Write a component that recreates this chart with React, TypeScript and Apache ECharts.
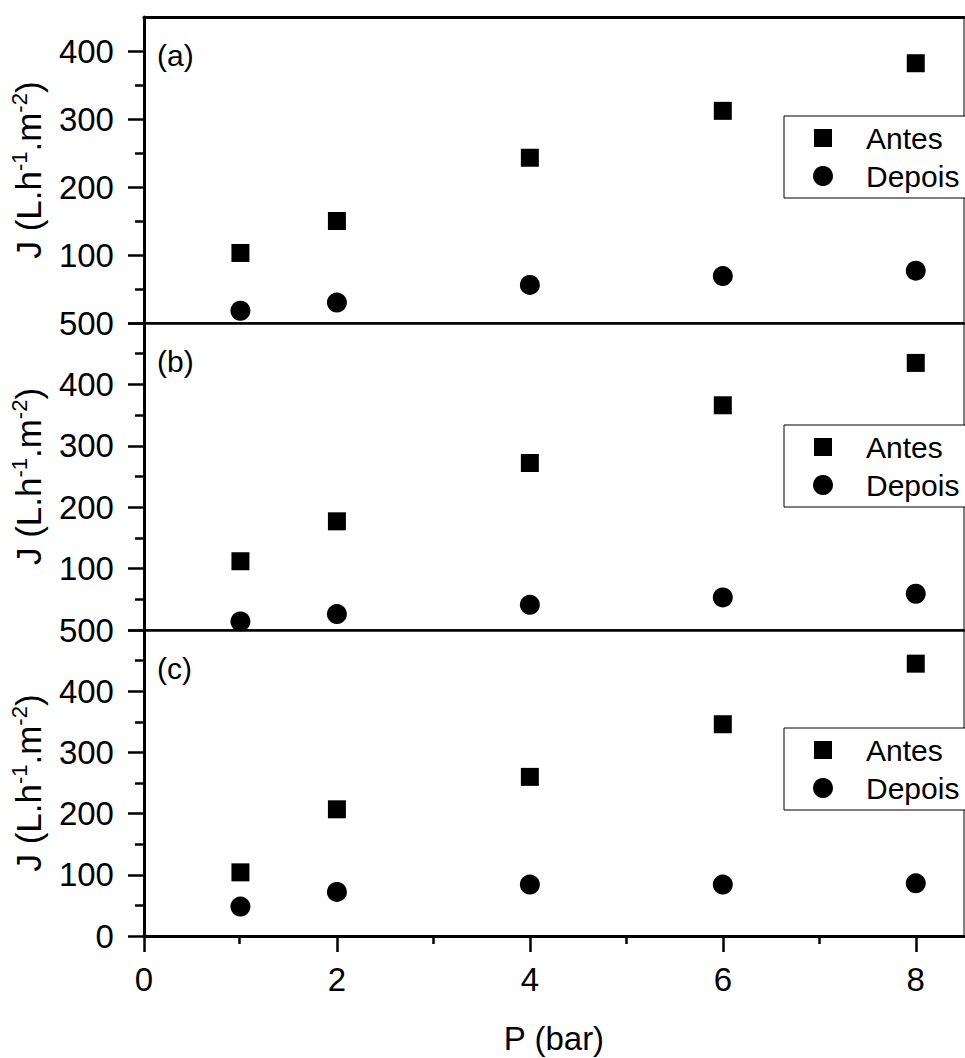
import React, { useEffect, useRef } from 'react';
import * as echarts from 'echarts';

// ---- data ----
const pressure = [1, 2, 4, 6, 8];
const antesA = [103, 150, 243, 312, 382];
const depoisA = [18, 30, 56, 69, 77];
const antesB = [112, 177, 272, 366, 435];
const depoisB = [14, 26, 41, 53, 59];
const antesC = [104, 207, 260, 346, 445];
const depoisC = [48, 72, 84, 84, 86];

const panelLabels = ['(a)', '(b)', '(c)'];
const seriesNames = ['Antes', 'Depois'];

const xMajorTicks = [0, 2, 4, 6, 8];
const xMinorTicks = [1, 3, 5, 7];
const yMajorA = [0, 100, 200, 300, 400];
const yLabelsA = [100, 200, 300, 400];
const yMinorA = [50, 150, 250, 350];
const yMajorBC = [0, 100, 200, 300, 400, 500];
const yLabelsB = [100, 200, 300, 400, 500];
const yLabelsC = [0, 100, 200, 300, 400, 500];
const yMinorBC = [50, 150, 250, 350, 450];
const yMaxes = [450, 500, 500];
const xMax = 8.5;

const FONT = 'Liberation Sans, Arial, Helvetica, sans-serif';
const SQUARE_ICON = 'path://M-1 -1M19 19M0 0H18V18H0Z';

const L = 143;
const W = 821;
const tops = [17, 323, 630];
const heights = [306, 307, 306];
const legendTops = [116, 425, 728];

const antes = [antesA, antesB, antesC];
const depois = [depoisA, depoisB, depoisC];
const yMajor = [yMajorA, yMajorBC, yMajorBC];
const yLabels = [yLabelsA, yLabelsB, yLabelsC];
const yMinor = [yMinorA, yMinorBC, yMinorBC];

function buildOption(): any {
  const grid: any[] = [];
  [0, 1, 2].forEach((i) =>
    grid.push({
      left: L, top: tops[i], width: W, height: heights[i],
      show: true, borderColor: '#000', borderWidth: 1, backgroundColor: 'transparent',
    })
  );
  [0, 1, 2].forEach((i) =>
    grid.push({ left: L, top: tops[i], width: W, height: heights[i], show: false })
  );

  const xAxis: any[] = [];
  [0, 1, 2].forEach((i) => {
    const last = i === 2;
    xAxis.push({
      gridIndex: i, type: 'value', min: 0, max: xMax, position: 'bottom',
      axisLine: { show: true, onZero: false, lineStyle: { color: '#000', width: last ? 3 : 2.5 } },
      axisTick: last
        ? { show: true, customValues: xMajorTicks, length: 16, lineStyle: { color: '#000', width: 2.5 } }
        : { show: false },
      axisLabel: last
        ? { show: true, customValues: xMajorTicks, margin: 27, fontSize: 33, color: '#000', fontFamily: FONT }
        : { show: false },
      splitLine: { show: false },
      name: last ? 'P (bar)' : '',
      nameLocation: 'middle', nameGap: 86,
      nameTextStyle: { fontSize: 33, color: '#000', fontFamily: FONT },
    });
  });
  // top frame line of panel (a)
  xAxis.push({
    gridIndex: 0, type: 'value', min: 0, max: xMax, position: 'top',
    axisLine: { show: true, onZero: false, lineStyle: { color: '#000', width: 3 } },
    axisTick: { show: false }, axisLabel: { show: false }, splitLine: { show: false },
  });
  // minor-tick x axes
  [0, 1, 2].forEach((i) => {
    xAxis.push({
      gridIndex: 3 + i, type: 'value', min: 0, max: xMax, position: 'bottom',
      axisLine: { show: false, onZero: false },
      axisTick: i === 2
        ? { show: true, customValues: xMinorTicks, length: 8, lineStyle: { color: '#000', width: 2.5 } }
        : { show: false },
      axisLabel: { show: false }, splitLine: { show: false },
    });
  });

  const yAxis: any[] = [];
  [0, 1, 2].forEach((i) => {
    yAxis.push({
      gridIndex: i, type: 'value', min: 0, max: yMaxes[i], position: 'left',
      axisLine: { show: true, onZero: false, lineStyle: { color: '#000', width: 3 } },
      axisTick: { show: true, customValues: yMajor[i], length: 16, lineStyle: { color: '#000', width: 2.5 } },
      axisLabel: { show: true, customValues: yLabels[i], margin: 30, fontSize: 33, color: '#000', fontFamily: FONT },
      splitLine: { show: false },
      name: 'J (L.h{sup|-1}.m{sup|-2})',
      nameLocation: 'middle', nameGap: 87, nameRotate: 90,
      nameTextStyle: {
        fontSize: 35, color: '#000', fontFamily: FONT, lineHeight: 40,
        rich: { sup: { fontSize: 22, color: '#000', fontFamily: FONT, verticalAlign: 'top' } },
      },
    });
  });
  [0, 1, 2].forEach((i) => {
    yAxis.push({
      gridIndex: 3 + i, type: 'value', min: 0, max: yMaxes[i], position: 'left',
      axisLine: { show: false, onZero: false },
      axisTick: { show: true, customValues: yMinor[i], length: 8, lineStyle: { color: '#000', width: 2.5 } },
      axisLabel: { show: false }, splitLine: { show: false },
    });
  });

  const series: any[] = [];
  [0, 1, 2].forEach((i) => {
    series.push({
      type: 'scatter', name: seriesNames[0], xAxisIndex: i, yAxisIndex: i,
      data: pressure.map((p, k) => [p, antes[i][k]]),
      symbol: 'rect', symbolSize: 18, itemStyle: { color: '#000', opacity: 1 },
    });
    series.push({
      type: 'scatter', name: seriesNames[1], xAxisIndex: i, yAxisIndex: i,
      data: pressure.map((p, k) => [p, depois[i][k]]),
      symbol: 'circle', symbolSize: 20, itemStyle: { color: '#000', opacity: 1 },
    });
  });

  const legend = legendTops.map((t) => ({
    top: t, left: 784, orient: 'vertical', align: 'left',
    data: [
      { name: seriesNames[0], icon: SQUARE_ICON },
      { name: seriesNames[1], icon: 'circle' },
    ],
    itemWidth: 76, itemHeight: 20, itemGap: 6, padding: [6, 30, 6, 29],
    borderColor: '#000', borderWidth: 1, backgroundColor: '#fff', borderRadius: 0,
    selectedMode: false, symbolKeepAspect: true,
    itemStyle: { opacity: 1 },
    textStyle: { fontSize: 30, fontFamily: FONT, color: '#000', lineHeight: 32 },
  }));

  const graphic = panelLabels.map((lab, i) => ({
    type: 'text', x: 157, y: tops[i] + 38, silent: true,
    style: { text: lab, fontSize: 30, fontFamily: FONT, fill: '#000', verticalAlign: 'middle', align: 'left' },
  }));

  return {
    animation: false,
    backgroundColor: '#fff',
    textStyle: { fontFamily: FONT, color: '#000' },
    grid, xAxis, yAxis, series, legend, graphic,
  };
}

export default function App() {
  const ref = useRef<HTMLDivElement>(null);
  useEffect(() => {
    document.body.style.margin = '0';
    const chart = echarts.init(ref.current as HTMLDivElement, null, { renderer: 'svg' });
    chart.setOption(buildOption());
    return () => chart.dispose();
  }, []);
  return <div ref={ref} style={{ width: 965, height: 1058 }} />;
}
